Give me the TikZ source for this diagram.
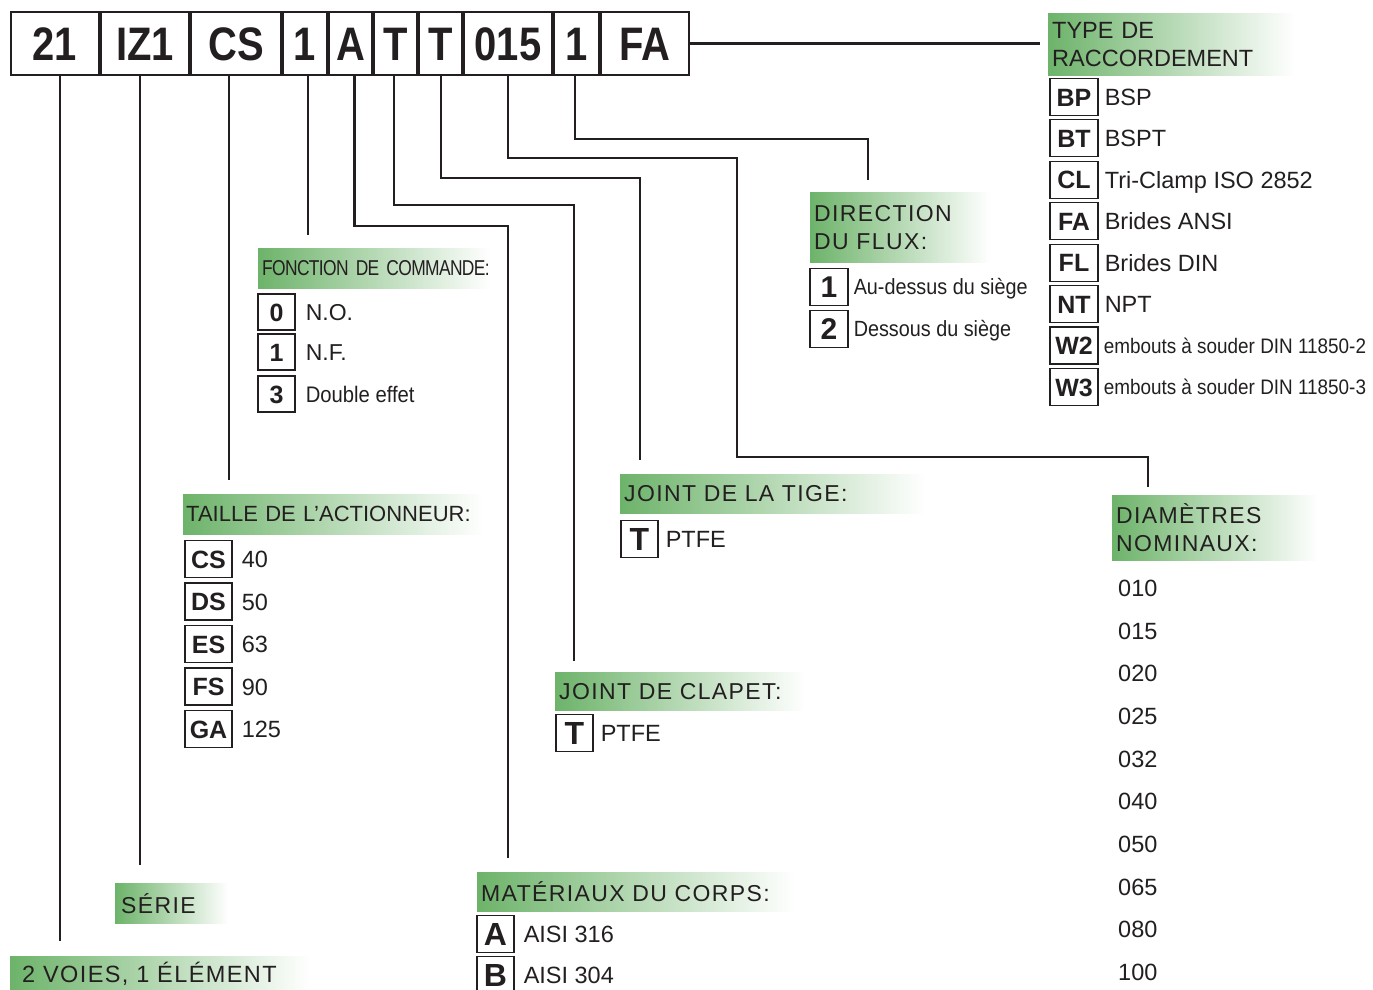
\documentclass[tikz,border=0pt]{standalone}
\usepackage{fontspec}
\setmainfont{Liberation Sans}
\newfontfamily\topfont[FakeStretch=0.85]{Liberation Sans}
\newfontfamily\hdfont[LetterSpace=6]{Liberation Sans}
\newfontfamily\narrowfont[FakeStretch=0.81,LetterSpace=-3]{Liberation Sans}
\newfontfamily\semifont[FakeStretch=0.9]{Liberation Sans}
\usetikzlibrary{positioning}
\definecolor{hdgreen}{HTML}{6DB36A}
\definecolor{ink}{HTML}{231F20}

\tikzset{
  topcode/.style={draw=ink, line width=1.2pt, minimum height=63, inner sep=0, text=ink,
    text height=35, text depth=0, font=\topfont\bfseries\fontsize{47}{47}\selectfont},
  conn/.style={draw=ink, line width=2.2pt},
  hdr/.style={left color=hdgreen, right color=white, anchor=north west, align=left,
    inner xsep=4, inner ysep=0, text=ink, font=\hdfont\fontsize{23}{28}\selectfont},
  codebox/.style={draw=ink, line width=1.1pt, minimum height=37, inner sep=0, text=ink,
    text height=18, text depth=0, font=\bfseries\fontsize{25}{25}\selectfont},
  bigcode/.style={codebox, text height=23, font=\bfseries\fontsize{32}{32}\selectfont},
  itemtxt/.style={anchor=west, inner sep=0, text=ink, text height=17, text depth=0,
    font=\fontsize{23.5}{24}\selectfont},
  itemsmall/.style={itemtxt, text height=15, font=\semifont\fontsize{21}{21}\selectfont}
}

\begin{document}
\begin{tikzpicture}[x=1pt, y=-1pt]
\useasboundingbox (0,0) rectangle (1373,990);

% code row
\foreach \n/\t/\a/\b in {c21/21/10/100, cIZ/IZ1/100/190, cCS/CS/190/282, cFct/1/282/328,
    cMat/A/328/373, cClapet/T/373/418, cTige/T/418/463, cDN/015/463/553, cDir/1/553/600, cRac/FA/600/690}
  \node[topcode, minimum width={\b-\a-2}] (\n) at ({(\a+\b)/2},43.5) {\t};

% headers
\node[hdr, text width=239, minimum height=62, font=\fontsize{23.5}{28}\selectfont] (hRac) at (1048,13) {TYPE DE\\RACCORDEMENT};
\node[hdr, text width=172, minimum height=70] (hDir) at (810,192) {DIRECTION\\DU FLUX:};
\node[hdr, text width=224, minimum height=40, font=\narrowfont\fontsize{21.5}{22}\selectfont] (hFct) at (258,248) {\mbox{FONCTION DE COMMANDE:}};
\node[hdr, inner xsep=3, text width=294, minimum height=40, font=\fontsize{22}{22}\selectfont] (hTaille) at (183,494) {\mbox{TAILLE DE L’ACTIONNEUR:}};
\node[hdr, text width=297, minimum height=39] (hTige) at (620,474) {JOINT DE LA TIGE:};
\node[hdr, text width=242, minimum height=38] (hClapet) at (555,672) {JOINT DE CLAPET:};
\node[hdr, text width=198, minimum height=65] (hDN) at (1112,495) {DIAMÈTRES\\NOMINAUX:};
\node[hdr, text width=310, minimum height=39] (hCorps) at (477,872) {MATÉRIAUX DU CORPS:};
\node[hdr, inner xsep=6, text width=101, minimum height=40] (hSerie) at (115,883) {SÉRIE};
\node[hdr, inner xsep=12, text width=276, minimum height=36, font=\hdfont\fontsize{23.5}{28}\selectfont] (hVoies) at (10,956) {2 VOIES, 1 ÉLÉMENT};

% free ends
\coordinate (eMat) at (508,858);
\coordinate (eClapet) at (574,661);
\coordinate (eTige) at (640,460);
\coordinate (eDN) at (1148,487);
\coordinate (eDir) at (868,180);

% connectors
\draw[conn, shorten >=15] ([xshift=5]c21.south) -- ([xshift=5]c21.south |- hVoies.north);
\draw[conn, shorten >=18] ([xshift=-5]cIZ.south) -- ([xshift=-5]cIZ.south |- hSerie.north);
\draw[conn, shorten >=14] ([xshift=-7]cCS.south) -- ([xshift=-7]cCS.south |- hTaille.north);
\draw[conn, shorten >=13] ([xshift=3]cFct.south) -- ([xshift=3]cFct.south |- hFct.north);
\draw[conn] ([xshift=4]cMat.south) |- (508,226) -- (eMat);
\draw[conn] ([xshift=-1.5]cClapet.south) |- (574,205) -- (eClapet);
\draw[conn] ([xshift=0.5]cTige.south) |- (640,178) -- (eTige);
\draw[conn] (cDN.south) |- (737,158) |- (1148,457) -- (eDN);
\draw[conn] ([xshift=-1.5]cDir.south) |- (868,139) -- (eDir);
\draw[conn, shorten >=8] (cRac.east) -- (hRac.west |- cRac.east);

% type de raccordement
\foreach \c/\t [count=\i from 0] in {BP/BSP, BT/BSPT, CL/Tri-Clamp ISO 2852, FA/Brides ANSI, FL/Brides DIN, NT/NPT}
{
  \node[codebox, minimum width=48] (r\c) at (1074,{97+41.4*\i}) {\c};
  \node[itemtxt, right=6pt of r\c] {\t};
}
\node[codebox, minimum width=48] (rW2) at (1074,345.5) {W2};
\node[itemsmall, right=5pt of rW2] {embouts à souder DIN 11850-2};
\node[codebox, minimum width=48] (rW3) at (1074,387) {W3};
\node[itemsmall, right=5pt of rW3] {embouts à souder DIN 11850-3};

% direction du flux
\node[bigcode, minimum width=38, font=\bfseries\fontsize{30}{30}\selectfont, text height=21.5] (d1) at (829,287) {1};
\node[itemtxt, right=5pt of d1, font=\semifont\fontsize{22}{22}\selectfont, text height=15.8] {Au-dessus du siège};
\node[bigcode, minimum width=38, font=\bfseries\fontsize{30}{30}\selectfont, text height=21.5] (d2) at (829,329) {2};
\node[itemtxt, right=5pt of d2, font=\semifont\fontsize{22}{22}\selectfont, text height=15.8] {Dessous du siège};

% fonction de commande
\node[codebox, minimum width=37, minimum height=36] (f0) at (276.5,312) {0};
\node[itemtxt, right=10pt of f0, font=\fontsize{23}{23}\selectfont] {N.O.};
\node[codebox, minimum width=37, minimum height=36] (f1) at (276.5,352) {1};
\node[itemtxt, right=10pt of f1, font=\fontsize{23}{23}\selectfont] {N.F.};
\node[codebox, minimum width=37, minimum height=36] (f3) at (276.5,394) {3};
\node[itemtxt, right=10pt of f3, font=\semifont\fontsize{22.5}{23}\selectfont] {Double effet};

% taille de l'actionneur
\foreach \c/\t [count=\i from 0] in {CS/40, DS/50, ES/63, FS/90, GA/125}
{
  \node[codebox, minimum width=47] (t\c) at (208.5,{559+42.5*\i}) {\c};
  \node[itemtxt, right=9pt of t\c] {\t};
}

% joints
\node[bigcode, minimum width=37] (jT) at (639.5,539) {T};
\node[itemtxt, right=7pt of jT] {PTFE};
\node[bigcode, minimum width=37] (jC) at (574.5,733) {T};
\node[itemtxt, right=7pt of jC] {PTFE};

% materiaux du corps
\node[bigcode, minimum width=37] (mA) at (495.5,934) {A};
\node[itemtxt, right=9pt of mA] {AISI 316};
\node[bigcode, minimum width=37] (mB) at (495.5,975) {B};
\node[itemtxt, right=9pt of mB] {AISI 304};

% diametres nominaux
\foreach \d [count=\i from 0] in {010, 015, 020, 025, 032, 040, 050, 065, 080, 100}
  \node[itemtxt] (dn\d) at (1118,{588+42.67*\i}) {\d};
\end{tikzpicture}
\end{document}
